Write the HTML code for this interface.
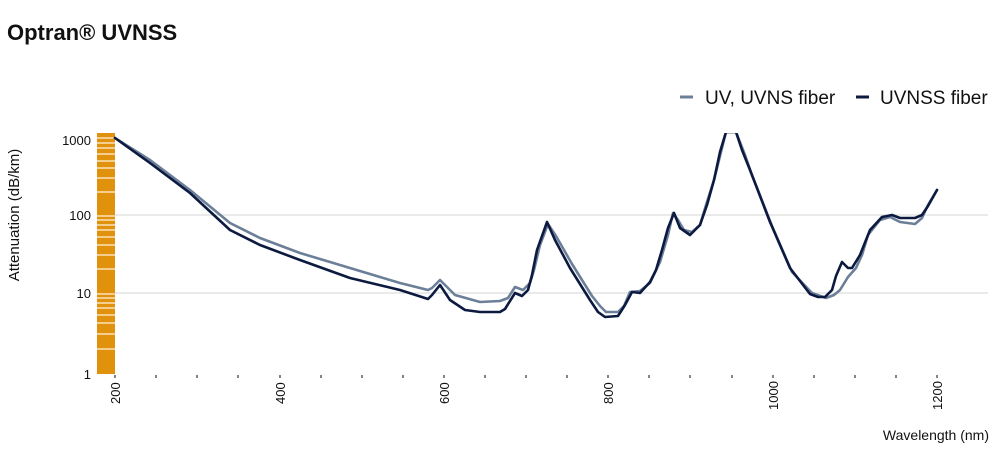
<!DOCTYPE html>
<html><head><meta charset="utf-8"><style>
body{margin:0;background:#fff;width:992px;height:471px;overflow:hidden;font-family:"Liberation Sans",sans-serif}
</style></head><body>
<svg width="992" height="471" viewBox="0 0 992 471" xmlns="http://www.w3.org/2000/svg" font-family="Liberation Sans, sans-serif">
<text x="7" y="40" font-size="22" font-weight="bold" fill="#111">Optran® UVNSS</text>
<line x1="680" y1="97" x2="693" y2="97" stroke="#6c7f99" stroke-width="3"/>
<text x="705" y="104" font-size="19" fill="#111">UV, UVNS fiber</text>
<line x1="856" y1="97" x2="869" y2="97" stroke="#0c1a40" stroke-width="3"/>
<text x="880" y="104" font-size="19" fill="#111">UVNSS fiber</text>
<line x1="115" y1="215" x2="988" y2="215" stroke="#ddd" stroke-width="1.3"/>
<line x1="115" y1="293" x2="988" y2="293" stroke="#ddd" stroke-width="1.3"/>
<rect x="97" y="133" width="18" height="241" fill="#e0920c"/>
<g stroke="#fff3dc" stroke-width="1.2">
<line x1="97" x2="115" y1="138" y2="138"/><line x1="97" x2="115" y1="143" y2="143"/><line x1="97" x2="115" y1="148" y2="148"/><line x1="97" x2="115" y1="154" y2="154"/><line x1="97" x2="115" y1="161" y2="161"/><line x1="97" x2="115" y1="168" y2="168"/><line x1="97" x2="115" y1="178" y2="178"/><line x1="97" x2="115" y1="192" y2="192"/>
<line x1="97" x2="115" y1="216" y2="216"/><line x1="97" x2="115" y1="220" y2="220"/><line x1="97" x2="115" y1="225" y2="225"/><line x1="97" x2="115" y1="230" y2="230"/><line x1="97" x2="115" y1="237" y2="237"/><line x1="97" x2="115" y1="245" y2="245"/><line x1="97" x2="115" y1="255" y2="255"/><line x1="97" x2="115" y1="269" y2="269"/>
<line x1="97" x2="115" y1="294" y2="294"/><line x1="97" x2="115" y1="298" y2="298"/><line x1="97" x2="115" y1="303" y2="303"/><line x1="97" x2="115" y1="308" y2="308"/><line x1="97" x2="115" y1="315" y2="315"/><line x1="97" x2="115" y1="323" y2="323"/><line x1="97" x2="115" y1="334" y2="334"/><line x1="97" x2="115" y1="349" y2="349"/>
</g>
<g font-size="13" fill="#111" text-anchor="end">
<text x="91" y="145">1000</text><text x="91" y="220">100</text><text x="91" y="298">10</text><text x="91" y="379">1</text>
</g>
<text transform="translate(19,215) rotate(-90)" font-size="15" fill="#111" text-anchor="middle">Attenuation (dB/km)</text>
<g stroke="#333" stroke-width="1.2">
<line x1="115" x2="115" y1="375" y2="378"/><line x1="156" x2="156" y1="375" y2="378"/><line x1="197" x2="197" y1="375" y2="378"/><line x1="238" x2="238" y1="375" y2="378"/><line x1="280" x2="280" y1="375" y2="378"/><line x1="321" x2="321" y1="375" y2="378"/><line x1="362" x2="362" y1="375" y2="378"/><line x1="403" x2="403" y1="375" y2="378"/><line x1="444" x2="444" y1="375" y2="378"/><line x1="485" x2="485" y1="375" y2="378"/><line x1="526" x2="526" y1="375" y2="378"/><line x1="567" x2="567" y1="375" y2="378"/><line x1="608" x2="608" y1="375" y2="378"/><line x1="649" x2="649" y1="375" y2="378"/><line x1="690" x2="690" y1="375" y2="378"/><line x1="732" x2="732" y1="375" y2="378"/><line x1="773" x2="773" y1="375" y2="378"/><line x1="814" x2="814" y1="375" y2="378"/><line x1="855" x2="855" y1="375" y2="378"/><line x1="896" x2="896" y1="375" y2="378"/><line x1="937" x2="937" y1="375" y2="378"/>
</g>
<g font-size="13" fill="#111">
<text transform="translate(120,404) rotate(-90)">200</text>
<text transform="translate(285,404) rotate(-90)">400</text>
<text transform="translate(449,404) rotate(-90)">600</text>
<text transform="translate(613,404) rotate(-90)">800</text>
<text transform="translate(778,410) rotate(-90)">1000</text>
<text transform="translate(942,410) rotate(-90)">1200</text>
</g>
<text x="989" y="440" font-size="14" fill="#111" text-anchor="end">Wavelength (nm)</text>
<clipPath id="c"><rect x="100" y="133" width="900" height="300"/></clipPath>
<g clip-path="url(#c)" fill="none" stroke-width="2.6" stroke-linejoin="round" stroke-linecap="round">
<polyline stroke="#6c7f99" points="115,138 150,160 190,190 230,223 260,238 300,253 350,268 400,283 428,290 432,288 440,280 455,295 480,302 500,301 508,298 515,287 523,290 530,283 534,270 540,245 548,224 556,236 572,264 592,296 600,306 606,312 618,312 624,306 630,292 640,291 650,283 660,262 668,235 673,213 678,220 684,230 692,232 700,225 706,205 714,180 722,148 726,132 736,132 745,155 752,175 772,226 792,272 812,293 826,298 834,295 840,290 848,277 856,268 862,255 868,235 880,220 890,217 900,222 915,224 922,218 928,205 937,190"/>
<polyline stroke="#0c1a40" points="115,138 150,163 190,193 230,230 260,245 300,260 350,278 400,290 428,299 432,295 440,285 450,300 465,310 480,312 500,312 505,309 515,293 522,296 528,290 532,275 537,250 547,222 555,240 570,268 590,300 598,312 605,317 618,316 625,305 632,292 640,293 650,282 656,270 662,250 668,228 674,213 680,228 690,235 700,225 707,205 714,180 720,152 726,132 736,132 742,150 750,170 770,222 790,268 810,294 818,297 825,297 832,290 836,276 842,262 848,268 852,268 860,255 870,230 882,217 892,215 900,218 915,218 922,215 928,206 937,190"/>
</g>
</svg>
</body></html>
